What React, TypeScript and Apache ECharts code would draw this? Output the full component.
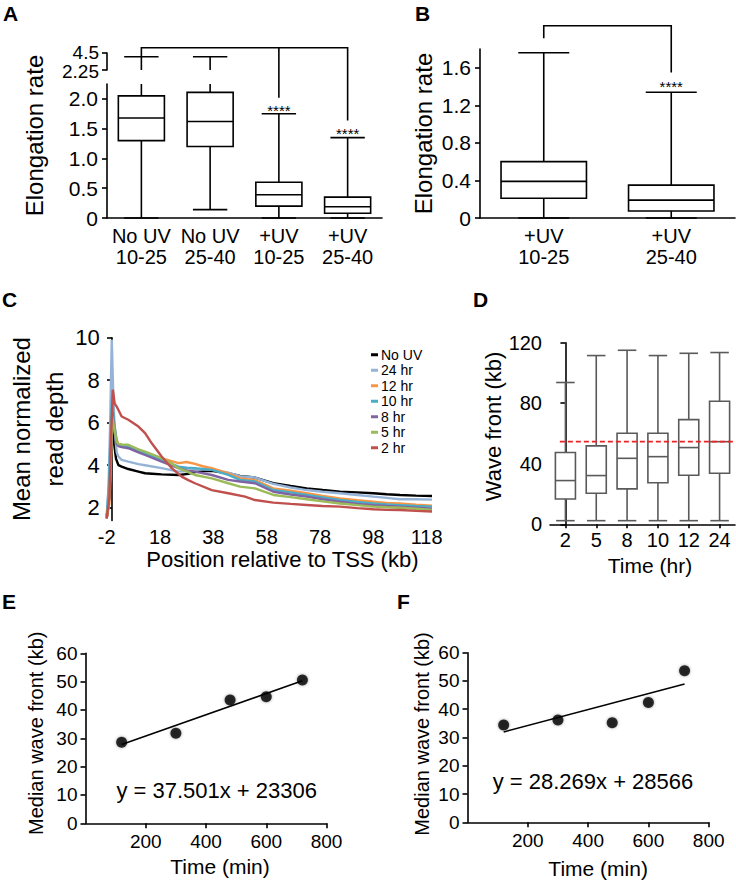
import React, { useEffect, useRef } from "react";
import * as echarts from "echarts";

const FONT = "'Liberation Sans', Arial, Helvetica, sans-serif";

// ---------- Panel A: elongation rate, four groups ----------
const aCategories = ["No UV\n10-25", "No UV\n25-40", "+UV\n10-25", "+UV\n25-40"];
const aMin = [0, 0.14, 0, 0];
const aQ1 = [1.3, 1.2, 0.2, 0.08];
const aMedian = [1.68, 1.62, 0.39, 0.19];
const aQ3 = [2.05, 2.11, 0.6, 0.35];
const aMax = [4.0, 4.0, 1.75, 1.35];
const aLowerTicks = [0, 0.5, 1.0, 1.5, 2.0];
const aBreak = 2.25; // top of lower segment / bottom of upper segment
const aUpperTop = 4.5;
const aUpperTicks = [aUpperTop, aBreak];

// ---------- Panel B ----------
const bCategories = ["+UV\n10-25", "+UV\n25-40"];
const bMin = [0, 0];
const bQ1 = [0.21, 0.075];
const bMedian = [0.39, 0.19];
const bQ3 = [0.6, 0.35];
const bMax = [1.76, 1.34];

// ---------- Panel C: read depth profiles [kb, depth] ----------
const cXTicks = [-2, 18, 38, 58, 78, 98, 118];
const cYTicks = [2, 4, 6, 8, 10];
const cNames = ["No UV", "24 hr", "12 hr", "10 hr", "8 hr", "5 hr", "2 hr"];
const cColors = ["#000000", "#95b3d7", "#f79646", "#4bacc6", "#8064a2", "#9bbb59", "#c0504d"];
const cNoUV = [[-2,1.5],[-1.2,2.2],[-0.6,4.5],[-0.2,6.2],[0.3,6.0],[0.8,5.0],[1.5,4.3],[2.4,4.0],[3.6,3.93],[6.1,3.82],[9.9,3.7],[12.4,3.62],[15,3.6],[18.6,3.57],[24.9,3.54],[28.6,3.59],[31.1,3.68],[34,3.72],[37.4,3.74],[43.6,3.62],[48,3.5],[53.6,3.42],[60.5,3.15],[67,3.02],[73,2.91],[79,2.83],[85.5,2.75],[92,2.72],[98,2.68],[103,2.63],[108,2.6],[114,2.57],[120,2.55]];
const c24 = [[-2,1.6],[-1.3,3.0],[-0.7,6.0],[-0.1,9.9],[0.4,7.6],[1,5.6],[1.75,4.6],[2.4,4.41],[3.6,4.25],[6.1,4.17],[9.9,4.05],[12.4,4.0],[18.6,3.86],[24.9,3.7],[28.6,3.72],[31.1,3.8],[37.4,3.8],[43.6,3.65],[48,3.48],[53.6,3.42],[60.5,3.12],[67,2.95],[73,2.83],[79,2.75],[85.5,2.68],[92,2.6],[98,2.52],[103,2.46],[108,2.4],[114,2.4],[120,2.38]];
const c12 = [[-2,1.5],[-1,2.2],[-0.5,3.8],[0.2,6.6],[0.8,5.9],[1.75,5.2],[2.4,5.0],[3.6,4.95],[6.1,4.9],[9.9,4.64],[12.4,4.56],[15,4.45],[18.6,4.33],[22,4.2],[24.9,4.1],[28,4.15],[31.1,4.06],[34,3.95],[37.4,3.86],[43.6,3.62],[48,3.38],[53.6,3.3],[60.5,2.91],[67,2.8],[73,2.68],[79,2.55],[85.5,2.44],[92,2.35],[98,2.28],[103,2.22],[108,2.2],[114,2.14],[120,2.1]];
const c10 = [[-2,1.6],[-1.2,3.0],[-0.4,6.0],[0,7.1],[0.8,6.0],[1.75,5.1],[2.4,4.95],[3.6,4.9],[6.1,4.88],[9.9,4.72],[12.4,4.56],[18.6,4.25],[24.9,3.93],[28,3.88],[31.1,3.86],[37.4,3.78],[43.6,3.54],[48,3.31],[53.6,3.23],[60.5,2.83],[67,2.72],[73,2.6],[79,2.48],[85.5,2.36],[92,2.27],[98,2.2],[103,2.15],[108,2.12],[114,2.08],[120,2.05]];
const c8 = [[-2,1.6],[-1,2.5],[-0.3,5.0],[0.1,6.5],[1,5.6],[1.75,5.0],[2.4,4.9],[3.6,4.85],[6.1,4.8],[9.9,4.6],[12.4,4.48],[18.6,4.17],[24.9,3.86],[28,3.75],[31.1,3.7],[37.4,3.54],[43.6,3.31],[48,3.23],[53.6,3.15],[60.5,2.75],[67,2.62],[73,2.52],[79,2.4],[85.5,2.28],[92,2.18],[98,2.12],[103,2.08],[108,2.05],[114,2.0],[120,1.95]];
const c5 = [[-2,1.6],[-1,2.5],[-0.3,5.0],[0.1,6.3],[1,5.6],[1.75,5.1],[2.4,5.0],[3.6,4.98],[6.1,4.96],[9.9,4.75],[12.4,4.64],[18.6,4.33],[22,4.1],[24.9,3.86],[31.1,3.54],[37.4,3.38],[43.6,3.15],[48,2.99],[53.6,2.91],[60.5,2.6],[67,2.5],[73,2.4],[79,2.3],[85.5,2.2],[92,2.12],[98,2.05],[103,2.02],[108,2.0],[114,1.95],[120,1.9]];
const c2 = [[-2,1.5],[-1,2.5],[-0.3,5.5],[0.3,7.55],[1,6.9],[1.75,6.76],[2.4,6.6],[3.6,6.29],[6.1,6.14],[9.9,5.82],[12.4,5.51],[14.9,5.03],[18.6,4.41],[22.4,3.86],[26.1,3.46],[28.6,3.3],[31.1,3.15],[37.4,2.83],[43.6,2.68],[49.9,2.52],[53.6,2.36],[60.5,2.24],[67,2.18],[73,2.13],[79,2.08],[85.5,2.05],[92,1.98],[98,1.93],[103,1.9],[108,1.89],[114,1.85],[120,1.82]];
const cData = [cNoUV, c24, c12, c10, c8, c5, c2];

// ---------- Panel D: wave front (kb) ----------
const dCategories = ["2", "5", "8", "10", "12", "24"];
const dMin = [2.4, 2.4, 2.4, 2.4, 2.4, 2.4];
const dQ1 = [16.7, 20.5, 23.4, 27.5, 32.4, 33.7];
const dMedian = [28.9, 32.2, 43.6, 44.7, 50.7, 54.6];
const dQ3 = [47.4, 51.8, 60.2, 60.2, 69.2, 81.3];
const dMax = [93.7, 111.5, 115.0, 111.5, 113.0, 113.5];
const dThreshold = 54.6;

// ---------- Panels E & F ----------
const eTimes = [120, 300, 480, 600, 720];
const eMedians = [28.6, 31.8, 43.5, 44.7, 50.6];
const eSlope = 37.501;
const eIntercept = 23306;
const fTimes = [120, 300, 480, 600, 720];
const fMedians = [34.4, 36.2, 35.2, 42.4, 53.6];
const fSlope = 28.269;
const fIntercept = 28566;

const BLACK = "#000";
const LW = 1.6;

function boxRender(boxFrac: number, capFrac: number, color: string, clipTop: number | null) {
  return function (_params: any, api: any) {
    const idx = api.value(0);
    const mn = api.value(1), q1 = api.value(2), md = api.value(3), q3 = api.value(4), mx = api.value(5);
    const band = api.size([1, 0])[0];
    const bw = band * boxFrac;
    const cw = band * capFrac;
    const cx = api.coord([idx, 0])[0];
    const Y = (v: number) => api.coord([idx, v])[1];
    const top = clipTop === null ? mx : Math.min(mx, clipTop);
    const st = { stroke: color, lineWidth: LW };
    const ch: any[] = [
      { type: "line", shape: { x1: cx, y1: Y(mn), x2: cx, y2: Y(q1) }, style: st },
      { type: "line", shape: { x1: cx, y1: Y(q3), x2: cx, y2: Y(top) }, style: st },
      { type: "rect", shape: { x: cx - bw / 2, y: Y(q3), width: bw, height: Y(q1) - Y(q3) }, style: { ...st, fill: "#fff" } },
      { type: "line", shape: { x1: cx - bw / 2, y1: Y(md), x2: cx + bw / 2, y2: Y(md) }, style: st },
      { type: "line", shape: { x1: cx - cw / 2, y1: Y(mn), x2: cx + cw / 2, y2: Y(mn) }, style: st },
    ];
    if (clipTop === null || mx <= clipTop) {
      ch.push({ type: "line", shape: { x1: cx - cw / 2, y1: Y(mx), x2: cx + cw / 2, y2: Y(mx) }, style: st });
    }
    return { type: "group", children: ch };
  };
}

function whiskerRender(capFrac: number, color: string) {
  return function (_params: any, api: any) {
    const idx = api.value(0);
    const lo = api.value(1), hi = api.value(2);
    const band = api.size([1, 0])[0];
    const cw = band * capFrac;
    const cx = api.coord([idx, 0])[0];
    const Y = (v: number) => api.coord([idx, v])[1];
    const st = { stroke: color, lineWidth: LW };
    return {
      type: "group",
      children: [
        { type: "line", shape: { x1: cx, y1: Y(lo), x2: cx, y2: Y(hi) }, style: st },
        { type: "line", shape: { x1: cx - cw / 2, y1: Y(hi), x2: cx + cw / 2, y2: Y(hi) }, style: st },
      ],
    };
  };
}

const boxRows = (mins: number[], q1: number[], med: number[], q3: number[], max: number[]) =>
  mins.map((_, i) => [i, mins[i], q1[i], med[i], q3[i], max[i]]);

const axisLine = { show: true, lineStyle: { color: BLACK, width: LW } };
const axisTick = { show: true, length: 5, inside: false, lineStyle: { color: BLACK, width: LW } };
const noSplit = { show: false };
const lbl = (size: number, extra: any = {}) => ({ color: BLACK, fontSize: size, fontFamily: FONT, ...extra });
const nameStyle = (size: number, extra: any = {}) => ({ color: BLACK, fontSize: size, fontFamily: FONT, ...extra });
const oneDec = (v: number) => (v === 0 ? "0" : v.toFixed(1));

function buildOption(): any {
  const grid = [
    { left: 107, top: 84, width: 275, height: 134 }, // A lower
    { left: 107, top: 53, width: 275, height: 17 }, // A upper
    { left: 480, top: 49, width: 255, height: 169 }, // B
    { left: 106.7, top: 337.7, width: 325.3, height: 182.75 }, // C
    { left: 550, top: 342.7, width: 185, height: 181.6 }, // D
    { left: 85.5, top: 653.3, width: 241, height: 170 }, // E
    { left: 467.5, top: 652.7, width: 241.2, height: 169.6 }, // F
  ];

  const catLabel = lbl(20, { interval: 0, lineHeight: 21, margin: 7 });
  const xAxis: any[] = [
    { type: "category", gridIndex: 0, data: aCategories, axisLine, axisTick: { show: false }, splitLine: noSplit, axisLabel: catLabel },
    { type: "category", gridIndex: 1, data: aCategories, show: false },
    { type: "category", gridIndex: 2, data: bCategories, axisLine, axisTick: { show: false }, splitLine: noSplit, axisLabel: catLabel },
    {
      type: "value", gridIndex: 3, min: -2, max: 120, axisLine: { show: false }, axisTick: { show: false }, splitLine: noSplit,
      axisLabel: lbl(20, { customValues: cXTicks, margin: 7 }),
      name: "Position relative to TSS (kb)", nameLocation: "middle", nameGap: 24,
      nameTextStyle: nameStyle(22, { padding: [0, 0, 0, 26] }),
    },
    {
      type: "category", gridIndex: 4, data: dCategories, axisLine, splitLine: noSplit,
      axisTick: { ...axisTick, alignWithLabel: true, length: 4 },
      axisLabel: lbl(20, { interval: 0, margin: 6 }),
      name: "Time (hr)", nameLocation: "middle", nameGap: 31,
      nameTextStyle: nameStyle(21, { padding: [0, 0, 0, 15] }),
    },
    { type: "value", gridIndex: 4, min: -0.5, max: 5.5, show: false },
    {
      type: "value", gridIndex: 5, min: 0, max: 800, interval: 200, axisLine, axisTick, splitLine: noSplit,
      axisLabel: lbl(19, { showMinLabel: false, margin: 9 }),
      name: "Time (min)", nameLocation: "middle", nameGap: 33,
      nameTextStyle: nameStyle(21, { padding: [0, 0, 0, 28] }),
    },
    {
      type: "value", gridIndex: 6, min: 0, max: 800, interval: 200, axisLine, axisTick, splitLine: noSplit,
      axisLabel: lbl(19, { showMinLabel: false, margin: 9 }),
      name: "Time (min)", nameLocation: "middle", nameGap: 36,
      nameTextStyle: nameStyle(21, { padding: [0, 0, 0, 20] }),
    },
  ];

  const yAxis: any[] = [
    {
      type: "value", gridIndex: 0, min: 0, max: aBreak, interval: 0.5, axisLine, axisTick, splitLine: noSplit,
      axisLabel: lbl(21, { showMaxLabel: false, margin: 9, formatter: (v: number) => (aLowerTicks.includes(v) ? oneDec(v) : "") }),
      name: "Elongation rate", nameLocation: "middle", nameRotate: 90, nameGap: 61,
      nameTextStyle: nameStyle(24, { padding: [0, 0, 0, 31] }),
    },
    {
      type: "value", gridIndex: 1, min: aBreak, max: aUpperTop, interval: aBreak, axisLine, axisTick, splitLine: noSplit,
      axisLabel: { show: false },
    },
    {
      type: "value", gridIndex: 2, min: 0, max: 1.8, interval: 0.4, axisLine, axisTick, splitLine: noSplit,
      axisLabel: lbl(21, { showMaxLabel: false, margin: 9, formatter: oneDec }),
      name: "Elongation rate", nameLocation: "middle", nameRotate: 90, nameGap: 45,
      nameTextStyle: nameStyle(24),
    },
    {
      type: "value", gridIndex: 3, min: 1.4, max: 10, axisLine, splitLine: noSplit,
      axisTick: { ...axisTick, customValues: cYTicks },
      axisLabel: lbl(22, { customValues: cYTicks, margin: 7 }),
      name: "Mean normalized\nread depth", nameLocation: "middle", nameRotate: 90, nameGap: 30,
      nameTextStyle: nameStyle(24, { lineHeight: 33 }),
    },
    {
      type: "value", gridIndex: 4, min: 0, max: 120, interval: 40, axisLine, axisTick, splitLine: noSplit,
      axisLabel: lbl(20, { margin: 8 }),
      name: "Wave front (kb)", nameLocation: "middle", nameRotate: 90, nameGap: 44,
      nameTextStyle: nameStyle(22, { padding: [0, 0, 0, 14] }),
    },
    {
      type: "value", gridIndex: 5, min: 0, max: 60, interval: 10, axisLine, axisTick, splitLine: noSplit,
      axisLabel: lbl(19, { margin: 8 }),
      name: "Median wave front (kb)", nameLocation: "middle", nameRotate: 90, nameGap: 40,
      nameTextStyle: nameStyle(20, { padding: [0, 0, 0, 10] }),
    },
    {
      type: "value", gridIndex: 6, min: 0, max: 60, interval: 10, axisLine, axisTick, splitLine: noSplit,
      axisLabel: lbl(19, { margin: 8 }),
      name: "Median wave front (kb)", nameLocation: "middle", nameRotate: 90, nameGap: 36,
      nameTextStyle: nameStyle(20, { padding: [0, 0, 0, 7] }),
    },
  ];

  const series: any[] = [];
  series.push({
    type: "custom", name: "A boxes", xAxisIndex: 0, yAxisIndex: 0,
    renderItem: boxRender(0.67, 0.5, BLACK, aBreak),
    encode: { x: 0, y: [1, 2, 3, 4, 5] },
    data: boxRows(aMin, aQ1, aMedian, aQ3, aMax),
  });
  series.push({
    type: "custom", name: "A upper whiskers", xAxisIndex: 1, yAxisIndex: 1,
    renderItem: whiskerRender(0.5, BLACK),
    encode: { x: 0, y: [1, 2] },
    data: aMax.map((m, i) => [i, aBreak, m]).filter((r) => r[2] > aBreak),
  });
  series.push({
    type: "custom", name: "B boxes", xAxisIndex: 2, yAxisIndex: 2,
    renderItem: boxRender(0.67, 0.4, BLACK, null),
    encode: { x: 0, y: [1, 2, 3, 4, 5] },
    data: boxRows(bMin, bQ1, bMedian, bQ3, bMax),
  });
  cNames.forEach((nm, k) => {
    series.push({
      type: "line", name: nm, xAxisIndex: 3, yAxisIndex: 3, data: cData[k],
      showSymbol: false, symbol: "none", color: cColors[k],
      lineStyle: { color: cColors[k], width: 2.4 }, z: 2,
    });
  });
  series.push({
    type: "custom", name: "D boxes", xAxisIndex: 4, yAxisIndex: 4,
    renderItem: boxRender(0.65, 0.6, "#5a5a5a", null),
    encode: { x: 0, y: [1, 2, 3, 4, 5] },
    data: boxRows(dMin, dQ1, dMedian, dQ3, dMax),
  });
  series.push({
    type: "line", name: "D threshold", xAxisIndex: 5, yAxisIndex: 4,
    data: [[-0.18, dThreshold], [5.44, dThreshold]], showSymbol: false, symbol: "none",
    lineStyle: { color: "#ee2020", width: 1.8, type: [5, 3] }, z: 5,
  });
  const trend = (times: number[], slope: number, intercept: number) =>
    [times[0], times[times.length - 1]].map((t) => [t, (slope * t + intercept) / 1000]);
  series.push({
    type: "line", name: "E fit", xAxisIndex: 6, yAxisIndex: 5, data: trend(eTimes, eSlope, eIntercept),
    showSymbol: false, symbol: "none", lineStyle: { color: BLACK, width: 1.5 },
  });
  series.push({
    type: "scatter", name: "E medians", xAxisIndex: 6, yAxisIndex: 5,
    data: eTimes.map((t, i) => [t, eMedians[i]]), symbolSize: 11,
    itemStyle: { color: BLACK, shadowBlur: 3, shadowColor: "rgba(0,0,0,0.45)" }, z: 3,
  });
  series.push({
    type: "line", name: "F fit", xAxisIndex: 7, yAxisIndex: 6, data: trend(fTimes, fSlope, fIntercept),
    showSymbol: false, symbol: "none", lineStyle: { color: BLACK, width: 1.5 },
  });
  series.push({
    type: "scatter", name: "F medians", xAxisIndex: 7, yAxisIndex: 6,
    data: fTimes.map((t, i) => [t, fMedians[i]]), symbolSize: 11,
    itemStyle: { color: BLACK, shadowBlur: 3, shadowColor: "rgba(0,0,0,0.45)" }, z: 3,
  });

  return {
    animation: false,
    backgroundColor: "#fff",
    textStyle: { fontFamily: FONT },
    grid,
    xAxis,
    yAxis,
    legend: {
      data: cNames, orient: "vertical", left: 366, top: 342, itemWidth: 7, itemHeight: 3, itemGap: 0,
      icon: "rect", selectedMode: false,
      textStyle: { color: BLACK, fontSize: 14, fontFamily: FONT, lineHeight: 15.5, padding: [0, 0, 0, -2] },
    },
    series,
  };
}

function text(str: string, x: number, y: number, size: number, opts: any = {}) {
  const align = opts.align || "left";
  const valign = opts.valign || "top";
  return {
    type: "text", x, y, silent: true, rotation: opts.rotation || 0,
    style: {
      text: str, fill: BLACK, fontSize: size, fontFamily: FONT, fontWeight: opts.bold ? "bold" : "normal",
      align, textAlign: align, verticalAlign: valign, textVerticalAlign: valign,
      lineHeight: opts.lineHeight,
    },
  };
}

function buildGraphic(chart: any): any[] {
  const cp = (xi: number, yi: number, pt: number[]) =>
    chart.convertToPixel({ xAxisIndex: xi, yAxisIndex: yi }, pt) as number[];
  const g: any[] = [];
  // panel letters
  g.push(text("A", 3, 3, 21, { bold: true }));
  g.push(text("B", 415, 3, 21, { bold: true }));
  g.push(text("C", 2, 289, 21, { bold: true }));
  g.push(text("D", 473, 289, 21, { bold: true }));
  g.push(text("E", 2, 591, 21, { bold: true }));
  g.push(text("F", 397, 591, 21, { bold: true }));

  // upper (compressed) segment tick labels of panel A's broken axis
  aUpperTicks.forEach((v, i) => {
    const p = cp(1, 1, [0, v]);
    const axisX = 107;
    g.push(text(String(v), axisX - 8, p[1] + (i === 0 ? -1 : 1), 19, { align: "right", valign: "middle", lineHeight: 16 }));
  });

  const line = { stroke: BLACK, lineWidth: LW, fill: "none" };
  // Panel A bracket & stars
  const a0 = cp(1, 1, [0, aMax[0]]);
  const a2 = cp(0, 0, [2, aMax[2]]);
  const a3 = cp(0, 0, [3, aMax[3]]);
  const aTop = a0[1] - 9;
  g.push({ type: "polyline", silent: true, shape: { points: [[a0[0], a0[1]], [a0[0], aTop], [a3[0], aTop], [a3[0], a3[1] - 17]] }, style: line });
  g.push({ type: "line", silent: true, shape: { x1: a2[0], y1: aTop, x2: a2[0], y2: a2[1] - 16 }, style: line });
  g.push(text("****", a2[0], a2[1] - 3, 15, { align: "center", valign: "middle" }));
  g.push(text("****", a3[0], a3[1] - 4, 15, { align: "center", valign: "middle" }));

  // Panel B bracket & stars
  const b0 = cp(2, 2, [0, bMax[0]]);
  const b1 = cp(2, 2, [1, bMax[1]]);
  const bTop = b0[1] - 27;
  g.push({ type: "polyline", silent: true, shape: { points: [[b0[0], b0[1] - 14.4], [b0[0], bTop], [b1[0], bTop], [b1[0], b1[1] - 19.6]] }, style: line });
  g.push(text("****", b1[0], b1[1] - 6, 15, { align: "center", valign: "middle" }));

  // regression equations
  g.push(text(`y = ${eSlope}x + ${eIntercept}`, 216.7, 790, 22, { align: "center", valign: "middle" }));
  g.push(text(`y = ${fSlope}x + ${fIntercept}`, 593, 781.7, 22, { align: "center", valign: "middle" }));
  return g;
}

export default function App() {
  const ref = useRef<HTMLDivElement>(null);
  useEffect(() => {
    document.body.style.margin = "0";
    const chart = echarts.init(ref.current as HTMLDivElement, null, { renderer: "svg" });
    chart.setOption(buildOption());
    chart.setOption({ graphic: buildGraphic(chart) });
    return () => chart.dispose();
  }, []);
  return <div ref={ref} style={{ width: 736, height: 888 }} />;
}
